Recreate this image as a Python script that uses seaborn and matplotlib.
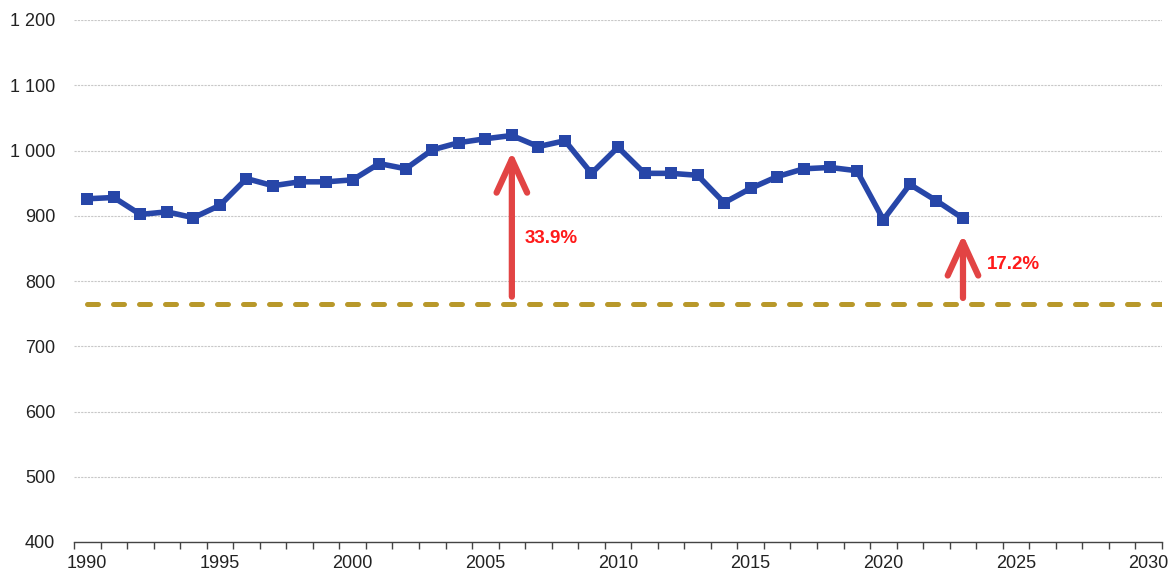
#!/usr/bin/env python3
import pandas as pd
import seaborn as sns
from matplotlib import pyplot as plt
from matplotlib.ticker import MultipleLocator, FixedLocator, FuncFormatter

years = list(range(1990, 2024))
values = [926, 928, 902, 906, 897, 916, 957, 946, 952, 952,
          955, 980, 972, 1001, 1012, 1018, 1023, 1006, 1015, 965,
          1005, 965, 965, 962, 920, 942, 960, 972, 974, 969,
          894, 948, 923, 896]
target = 764
arrow_years = [2006, 2023]
arrow_labels = ["33.9%", "17.2%"]

BLUE = "#2746a8"
GOLD = "#b8982a"
RED = "#e24444"


def main():
    sns.set_style("white")
    plt.rcParams['font.family'] = ['Liberation Sans', 'DejaVu Sans']

    df = pd.DataFrame({"year": years, "value": values})

    fig = plt.figure(figsize=(11.7, 5.73), dpi=100)
    # category axis: ticks sit between years, labels on the year itself
    ax = fig.add_axes([74 / 1170, 31 / 573, 1088 / 1170, 522 / 573])

    ax.hlines(target, 1990, 2030.5, color=GOLD, lw=3.6, linestyles=[(0, (2.2, 3.0))],
              capstyle="round", zorder=2)
    sns.lineplot(data=df, x="year", y="value", color=BLUE, lw=4, marker="s", markersize=9,
                 markeredgewidth=0, ax=ax, zorder=4)

    vals = dict(zip(years, values))
    tails = [776, 774]
    for yr, tail in zip(arrow_years, tails):
        ax.annotate("", xy=(yr, vals[yr] - 25), xytext=(yr, tail),
                    arrowprops=dict(arrowstyle="->,head_length=1.2,head_width=0.55",
                                    mutation_scale=20, color=RED, lw=4.5, shrinkA=0, shrinkB=0),
                    zorder=3)
    ax.text(2006.5, 865, arrow_labels[0], color="#ff1a1a", fontsize=13.5, fontweight="bold",
            va="center", ha="left")
    ax.text(2023.9, 825, arrow_labels[1], color="#ff1a1a", fontsize=13.5, fontweight="bold",
            va="center", ha="left")

    ax.set_xlim(1989.5, 2030.5)
    ax.set_ylim(400, 1200)
    ax.xaxis.set_major_locator(FixedLocator(list(range(1990, 2031, 5))))
    ax.xaxis.set_major_formatter(FuncFormatter(lambda v, p: f"{int(round(v))}"))
    ax.xaxis.set_minor_locator(FixedLocator([y - 0.5 for y in range(1990, 2032)]))
    ax.yaxis.set_major_locator(MultipleLocator(100))
    ax.yaxis.set_major_formatter(FuncFormatter(lambda v, p: f"{int(v):,}".replace(",", " ")))
    ax.grid(axis="y", color="#c8c8c8", lw=0.8, ls=(0, (2, 1)))
    ax.set_axisbelow(True)
    for s in ["top", "right", "left"]:
        ax.spines[s].set_visible(False)
    ax.spines["bottom"].set_color("#444444")
    ax.spines["bottom"].set_linewidth(1)
    ax.tick_params(axis="x", which="major", length=0, labelsize=13, pad=9, labelcolor="#222222")
    ax.tick_params(axis="x", which="minor", direction="out", length=5, width=1, color="#444444",
                   bottom=True)
    ax.tick_params(axis="y", length=0, labelsize=13, pad=13.5, labelcolor="#222222")
    ax.set_xlabel("")
    ax.set_ylabel("")

    fig.savefig("out.png", dpi=100)
    plt.close(fig)


if __name__ == "__main__":
    main()
